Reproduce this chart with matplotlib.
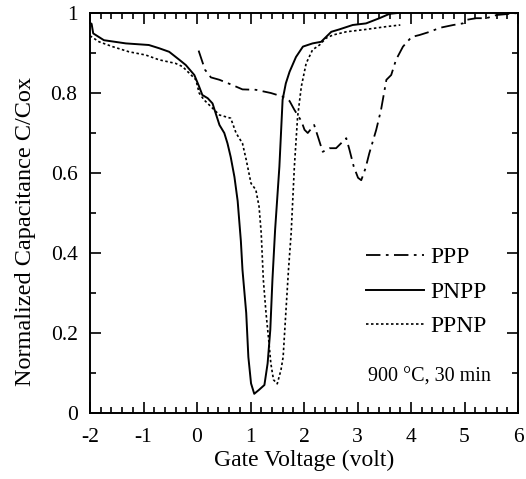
import matplotlib
matplotlib.use("Agg")
import matplotlib.pyplot as plt
from matplotlib.ticker import MultipleLocator, FuncFormatter

plt.rcParams['font.family'] = ['Liberation Serif', 'DejaVu Serif']
plt.rcParams['axes.unicode_minus'] = False

# PPP (dash-dot)
ppp_x = [0.03, 0.15, 0.26, 0.42, 0.66, 0.85, 1.10, 1.38, 1.60, 1.73, 1.82, 1.95, 2.01, 2.07,
         2.19, 2.26, 2.35, 2.48, 2.60, 2.66, 2.79, 2.85, 2.93, 3.01, 3.07, 3.15, 3.22, 3.35,
         3.44, 3.54, 3.63, 3.72, 3.85, 4.01, 4.16, 4.35, 4.54, 4.79, 4.97, 5.04, 5.22, 5.41,
         5.60, 5.85, 6.0]
ppp_y = [0.906, 0.858, 0.839, 0.833, 0.820, 0.809, 0.808, 0.800, 0.791, 0.780, 0.758, 0.730, 0.708, 0.700,
         0.720, 0.691, 0.653, 0.662, 0.662, 0.670, 0.687, 0.658, 0.616, 0.588, 0.582, 0.612, 0.649, 0.708,
         0.758, 0.833, 0.845, 0.883, 0.916, 0.940, 0.945, 0.953, 0.963, 0.970, 0.974, 0.983, 0.987, 0.987,
         0.995, 0.998, 1.0]

# PNPP (solid)
pnpp_x = [-2.0, -1.97, -1.94, -1.74, -1.33, -0.90, -0.71, -0.52, -0.33, -0.21, -0.05, 0.04, 0.10,
          0.20, 0.29, 0.35, 0.42, 0.51, 0.57, 0.63, 0.70, 0.76, 0.82, 0.85, 0.92, 0.96, 1.01, 1.07,
          1.16, 1.26, 1.32, 1.37, 1.41, 1.46, 1.54, 1.60, 1.66, 1.73, 1.85, 1.98, 2.16, 2.32, 2.51,
          2.66, 2.91, 3.16, 3.41, 3.60, 3.75]
pnpp_y = [0.975, 0.973, 0.949, 0.932, 0.924, 0.920, 0.912, 0.903, 0.883, 0.870, 0.845, 0.816, 0.795,
          0.787, 0.774, 0.749, 0.720, 0.700, 0.674, 0.640, 0.590, 0.530, 0.430, 0.358, 0.250, 0.140, 0.074, 0.048,
          0.058, 0.070, 0.124, 0.208, 0.333, 0.458, 0.616, 0.783, 0.824, 0.853, 0.890, 0.916, 0.924, 0.928, 0.953,
          0.959, 0.970, 0.974, 0.987, 0.998, 1.0]

# PPNP (dotted)
ppnp_x = [-2.0, -1.83, -1.58, -1.27, -0.96, -0.71, -0.40, -0.27, -0.11, -0.02, 0.04, 0.13, 0.26,
          0.42, 0.63, 0.73, 0.85, 0.92, 1.01, 1.10, 1.16, 1.20, 1.24, 1.29, 1.34, 1.38, 1.43, 1.50,
          1.57, 1.61, 1.66, 1.71, 1.76, 1.82, 1.88, 1.95, 2.04, 2.16, 2.29, 2.41, 2.54, 2.79, 3.16,
          3.54, 3.80]
ppnp_y = [0.943, 0.928, 0.916, 0.903, 0.895, 0.883, 0.874, 0.866, 0.845, 0.833, 0.800, 0.783, 0.766,
          0.745, 0.737, 0.700, 0.674, 0.633, 0.574, 0.558, 0.516, 0.450, 0.333, 0.250, 0.183, 0.124, 0.083, 0.073,
          0.108, 0.140, 0.250, 0.358, 0.450, 0.616, 0.740, 0.816, 0.874, 0.908, 0.920, 0.937, 0.945, 0.953, 0.959,
          0.966, 0.970]

x_ticks = [-2, -1, 0, 1, 2, 3, 4, 5, 6]
y_ticks = [0, 0.2, 0.4, 0.6, 0.8, 1.0]

fig = plt.figure(figsize=(5.26, 4.79), dpi=100)
ax = fig.add_axes([90 / 526, 66 / 479, 428 / 526, 400 / 479])

ax.plot(ppp_x, ppp_y, color='black', lw=1.3, dashes=(8, 3, 1.5, 3), label='PPP')
ax.plot(pnpp_x, pnpp_y, color='black', lw=1.4, label='PNPP')
ax.plot(ppnp_x, ppnp_y, color='black', lw=1.2, dashes=(1.5, 1.5), label='PPNP')

ax.set_xlim(-2, 6)
ax.set_ylim(0, 1)
ax.set_xticks(x_ticks)
ax.set_yticks(y_ticks)
ax.xaxis.set_minor_locator(MultipleLocator(0.2))
ax.yaxis.set_minor_locator(MultipleLocator(0.1))
ax.yaxis.set_major_formatter(FuncFormatter(lambda v, p: '%g' % v))
ax.tick_params(which='both', direction='in', top=True, right=True, labelsize=15.5, width=1.2)
ax.tick_params(which='major', length=8)
ax.tick_params(which='minor', length=4.3)
ax.tick_params(axis='x', which='major', pad=11)
ax.tick_params(axis='y', which='major', pad=9)
for s in ax.spines.values():
    s.set_linewidth(1.4)

ax.set_xlabel('Gate Voltage (volt)', fontsize=17, labelpad=2)
ax.set_ylabel('Normalized Capacitance C/Cox', fontsize=17.5)
ax.yaxis.set_label_coords(-0.126, 0.4525)

leg = ax.legend(loc='upper left', bbox_to_anchor=(0.617, 0.445), frameon=False, fontsize=17,
                handlelength=2.45, handletextpad=0.3, labelspacing=0.55, borderpad=0)
ax.text(0.794, 0.09, '900 °C, 30 min', transform=ax.transAxes, fontsize=14.5,
        ha='center', va='center')

fig.savefig('out.png', dpi=100)
